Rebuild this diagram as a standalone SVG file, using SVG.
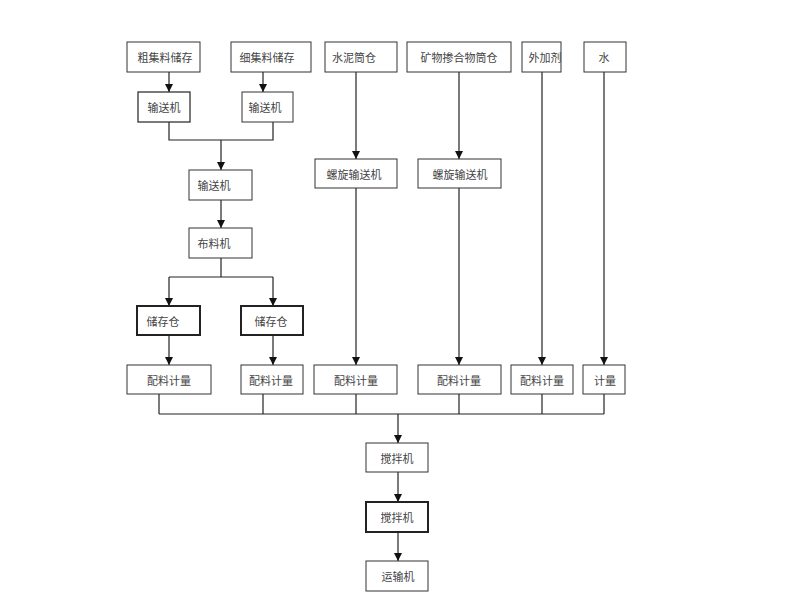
<svg xmlns="http://www.w3.org/2000/svg" width="800" height="600" viewBox="0 0 800 600">
<defs>
<marker id="ah" viewBox="0 0 10 10" refX="10" refY="5" markerWidth="8" markerHeight="9" markerUnits="userSpaceOnUse" orient="auto">
<path d="M0,0 L10,5 L0,10 Z" fill="#111"/>
</marker>
<style>
.b{fill:#fff;stroke:#333;stroke-width:1}
.bb{fill:#fff;stroke:#222;stroke-width:2}
.t{font-family:"Noto Sans CJK SC","Noto Sans",sans-serif;font-size:11px;fill:#444;text-anchor:middle;dominant-baseline:central}
.c line,.c polyline{stroke:#222;stroke-width:1.2;fill:none}
.a{marker-end:url(#ah)}
</style>
</defs>
<rect width="800" height="600" fill="#fff"/>
<g class="c" id="connectors">
<line class="a" x1="169" y1="72" x2="169" y2="92"/>
<line class="a" x1="263" y1="72" x2="263" y2="92"/>
<line x1="263" y1="92" x2="263" y2="110"/>
<polyline points="169,122 169,140 273,140 273,122"/>
<line class="a" x1="221" y1="140" x2="221" y2="170"/>
<line class="a" x1="221" y1="200" x2="221" y2="228"/>
<line x1="221" y1="258" x2="221" y2="277"/>
<line x1="169" y1="277" x2="273" y2="277"/>
<line class="a" x1="169" y1="277" x2="169" y2="306"/>
<line class="a" x1="273" y1="277" x2="273" y2="306"/>
<line class="a" x1="169" y1="335" x2="169" y2="365"/>
<line class="a" x1="273" y1="335" x2="273" y2="365"/>
<line class="a" x1="356" y1="72" x2="356" y2="159"/>
<line class="a" x1="459" y1="72" x2="459" y2="159"/>
<line class="a" x1="356" y1="188" x2="356" y2="365"/>
<line class="a" x1="459" y1="188" x2="459" y2="365"/>
<line class="a" x1="542" y1="72" x2="542" y2="365"/>
<line class="a" x1="604" y1="72" x2="604" y2="365"/>
<line x1="159" y1="394" x2="159" y2="414"/>
<line x1="263" y1="394" x2="263" y2="414"/>
<line x1="356" y1="394" x2="356" y2="414"/>
<line x1="459" y1="394" x2="459" y2="414"/>
<line x1="542" y1="394" x2="542" y2="414"/>
<line x1="604" y1="394" x2="604" y2="414"/>
<line x1="159" y1="414" x2="604" y2="414"/>
<line class="a" x1="398" y1="414" x2="398" y2="443"/>
<line class="a" x1="398" y1="472" x2="398" y2="502"/>
<line class="a" x1="398" y1="532" x2="398" y2="561"/>
</g>
<g id="n1"><rect class="b" x="127" y="42" width="73" height="30"/><text class="t" x="165" y="57">粗集料储存</text></g>
<g id="n2"><rect class="b" x="231" y="42" width="80" height="30"/><text class="t" x="267" y="57">细集料储存</text></g>
<g id="n3"><rect class="b" x="325" y="42" width="72" height="30"/><text class="t" x="354" y="57">水泥筒仓</text></g>
<g id="n4"><rect class="b" x="407" y="42" width="104" height="30"/><text class="t" x="459" y="57">矿物掺合物筒仓</text></g>
<g id="n5"><rect class="b" x="522" y="42" width="39" height="30"/><text class="t" x="545" y="57">外加剂</text></g>
<g id="n6"><rect class="b" x="584" y="42" width="42" height="30"/><text class="t" x="604" y="57">水</text></g>
<g id="n7"><rect class="b" x="138" y="92" width="52" height="30" style="stroke-width:1.3"/><text class="t" x="164" y="107">输送机</text></g>
<g id="n8"><rect class="b" x="242" y="92" width="51" height="30"/><text class="t" x="265" y="107">输送机</text></g>
<g id="n9"><rect class="b" x="189" y="170" width="63" height="30"/><text class="t" x="214" y="185">输送机</text></g>
<g id="n10"><rect class="b" x="189" y="228" width="63" height="30"/><text class="t" x="214" y="243">布料机</text></g>
<g id="n11"><rect class="b" x="315" y="159" width="82" height="29"/><text class="t" x="354" y="174">螺旋输送机</text></g>
<g id="n12"><rect class="b" x="418" y="159" width="83" height="29"/><text class="t" x="460" y="174">螺旋输送机</text></g>
<g id="n13"><rect class="bb" x="137" y="306" width="63" height="29"/><text class="t" x="163" y="321">储存仓</text></g>
<g id="n14"><rect class="bb" x="241" y="306" width="62" height="29"/><text class="t" x="271" y="321">储存仓</text></g>
<g id="n15"><rect class="b" x="127" y="365" width="84" height="29"/><text class="t" x="169" y="380">配料计量</text></g>
<g id="n16"><rect class="b" x="241" y="365" width="62" height="29"/><text class="t" x="271" y="380">配料计量</text></g>
<g id="n17"><rect class="b" x="314" y="365" width="83" height="29"/><text class="t" x="356" y="380">配料计量</text></g>
<g id="n18"><rect class="b" x="418" y="365" width="83" height="29"/><text class="t" x="459" y="380">配料计量</text></g>
<g id="n19"><rect class="b" x="511" y="365" width="62" height="29"/><text class="t" x="542" y="380">配料计量</text></g>
<g id="n20"><rect class="b" x="583" y="365" width="42" height="29"/><text class="t" x="605" y="380">计量</text></g>
<g id="n21"><rect class="b" x="366" y="443" width="62" height="29"/><text class="t" x="397" y="458">搅拌机</text></g>
<g id="n22"><rect class="bb" x="366" y="502" width="62" height="30"/><text class="t" x="397" y="517">搅拌机</text></g>
<g id="n23"><rect class="b" x="366" y="561" width="62" height="30"/><text class="t" x="398" y="576">运输机</text></g>
</svg>
